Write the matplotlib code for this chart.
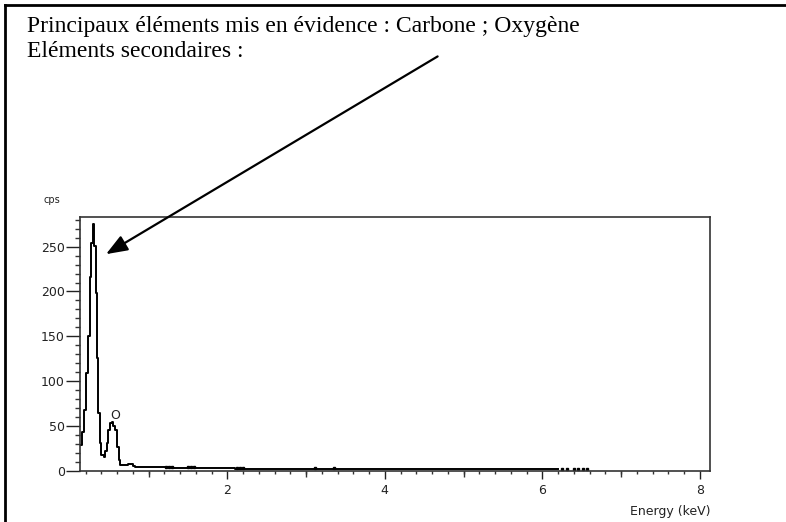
import matplotlib.pyplot as plt
from matplotlib.lines import Line2D
from matplotlib.ticker import MultipleLocator

# spectrum (keV, cps), 0.02 keV channels around the peaks
energy = [0.13, 0.16, 0.18, 0.20, 0.23, 0.255, 0.275, 0.29, 0.31, 0.33, 0.345,
          0.36, 0.38, 0.40, 0.43, 0.45, 0.47, 0.49, 0.51, 0.53, 0.55, 0.58,
          0.60, 0.62, 0.64, 0.66, 0.70, 0.74, 0.77, 0.80, 0.83, 0.86]
counts = [29, 44, 68, 109, 150, 216, 254, 275, 251, 198, 126,
          65, 31, 18, 16, 22, 31, 46, 53, 55, 50, 46,
          27, 12, 7, 7, 7, 8, 8, 6, 5, 4]

# flat tail, 0.2 keV steps
tail_energy = [0.9, 1.1, 1.3, 1.5, 1.7, 1.9, 2.1, 2.3, 2.5, 2.7, 2.9, 3.1, 3.3,
               3.5, 3.7, 3.9, 4.1, 4.3, 4.5, 4.7, 4.9, 5.1, 5.3, 5.5, 5.7,
               5.9, 6.1, 6.2]
tail_counts = [4, 4, 3, 3, 3, 3, 2, 2, 2, 2, 2, 2, 2,
               2, 2, 2, 2, 2, 2, 2, 2, 2, 2, 2, 2,
               2, 2, 2]

# isolated noise points
noise_energy = [1.22, 1.26, 1.30, 1.50, 1.54, 1.58, 2.12, 2.16, 2.20, 3.12,
                3.35, 6.25, 6.32, 6.40, 6.45, 6.52, 6.57]
noise_counts = [5, 5, 5, 5, 5, 5, 3, 3, 3, 3, 3, 2, 2, 2, 2, 2, 2]

title_lines = ['Principaux éléments mis en évidence : Carbone ; Oxygène',
               'Eléments secondaires :']

fig = plt.figure(figsize=(7.86, 5.22), dpi=100)
ax = fig.add_axes([80/786, 1-471/522, 630/786, 254/522])

ax.plot(energy + tail_energy, counts + tail_counts, drawstyle='steps-post',
        color='black', lw=1.4)
ax.plot(noise_energy, noise_counts, ls='none', marker='s', ms=1.8,
        color='black')

ax.set_xlim(0.13, 8.13)
ax.set_ylim(0, 283)
ax.set_xticks([2, 4, 6, 8])
ax.set_yticks([0, 50, 100, 150, 200, 250])
ax.xaxis.set_minor_locator(MultipleLocator(0.2))
ax.yaxis.set_minor_locator(MultipleLocator(10))
ax.tick_params(axis='y', which='major', length=10, width=1, pad=1,
               labelsize=9, colors='#222222')
ax.tick_params(axis='y', which='minor', length=3.5, width=1, color='#333333')
ax.tick_params(axis='x', which='major', length=6, width=1, pad=3,
               labelsize=9, colors='#222222')
ax.tick_params(axis='x', which='minor', length=2.5, width=1, color='#333333')
for s in ax.spines.values():
    s.set_color('#333333')
    s.set_linewidth(1.2)

# medium ticks at odd keV
sec = ax.secondary_xaxis('bottom')
sec.set_xticks([1, 3, 5, 7])
sec.set_xticklabels([])
sec.tick_params(length=4.5, width=1, color='#333333')
sec.spines['bottom'].set_visible(False)

ax.text(-0.044, 1.067, 'cps', transform=ax.transAxes, fontsize=7,
        ha='center', va='center', color='#222222')
ax.text(1.0, -0.16, 'Energy (keV)', transform=ax.transAxes, fontsize=9,
        ha='right', va='center', color='#222222')
ax.text(0.58, 62, 'O', fontsize=9, ha='center', va='center', color='#222222')

ax.annotate('', xy=(0.43, 240), xycoords='data',
            xytext=(440/786, 1-55/522), textcoords='figure fraction',
            arrowprops=dict(arrowstyle='-|>,head_length=1.3,head_width=0.5',
                            color='black', lw=1.6),
            annotation_clip=False)

fig.text(27/786, 1-32/522, title_lines[0], fontsize=17,
         family='Liberation Serif', ha='left', va='baseline')
fig.text(27/786, 1-57/522, title_lines[1], fontsize=17,
         family='Liberation Serif', ha='left', va='baseline')

# page frame, left and top only
fig.add_artist(Line2D([5.3/786, 5.3/786], [0, 1-5.3/522], color='black',
                      lw=2, transform=fig.transFigure))
fig.add_artist(Line2D([5.3/786, 1], [1-5.3/522, 1-5.3/522], color='black',
                      lw=2, transform=fig.transFigure))

fig.savefig('out.png', dpi=100)
